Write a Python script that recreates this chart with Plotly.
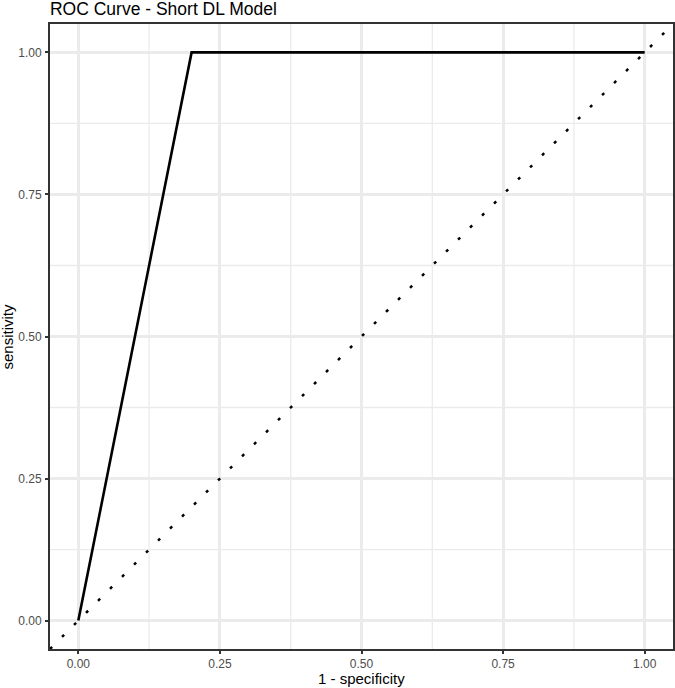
import plotly.graph_objects as go

# ROC curve points (1 - specificity, sensitivity)
fpr = [0.0, 0.2, 1.0]
tpr = [0.0, 1.0, 1.0]
# reference diagonal (chance line), spans the whole panel
diag_x = [-0.05, 1.05]
diag_y = [-0.05, 1.05]

tick_vals = [0.0, 0.25, 0.5, 0.75, 1.0]
tick_text = ["0.00", "0.25", "0.50", "0.75", "1.00"]
minor_vals = [0.125, 0.375, 0.625, 0.875]

GRID = "#EBEBEB"
INK = "#333333"
FONT = "Liberation Sans, Arial, sans-serif"

fig = go.Figure()
fig.add_trace(go.Scatter(
    x=diag_x, y=diag_y, mode="lines",
    line=dict(color="black", width=2.5, dash="3px,14px"),
    showlegend=False, hoverinfo="skip",
))
fig.add_trace(go.Scatter(
    x=fpr, y=tpr, mode="lines",
    line=dict(color="black", width=2.6),
    showlegend=False,
))

# minor grid lines drawn as shapes under the data
for v in minor_vals:
    fig.add_shape(type="line", xref="x", yref="paper", x0=v, x1=v, y0=0, y1=1,
                  line=dict(color=GRID, width=1.3), layer="below")
    fig.add_shape(type="line", xref="paper", yref="y", x0=0, x1=1, y0=v, y1=v,
                  line=dict(color=GRID, width=1.3), layer="below")

axis_common = dict(
    range=[-0.05, 1.05],
    tickvals=tick_vals,
    ticktext=tick_text,
    showgrid=True, gridcolor=GRID, gridwidth=2.6,
    zeroline=False,
    showline=True, linecolor=INK, linewidth=2, mirror=True,
    ticks="outside", ticklen=3, tickwidth=2, tickcolor=INK,
    tickfont=dict(size=12, color="#4D4D4D", family=FONT),
)

# axis titles as annotations so they sit exactly like the ggplot layout
fig.add_annotation(text="1 - specificity", xref="paper", yref="paper",
                   x=0.5, y=-0.0464, xanchor="center", yanchor="middle",
                   showarrow=False, font=dict(size=15, color="black"))
fig.add_annotation(text="sensitivity", xref="paper", yref="paper",
                   x=-0.069, y=0.5, xanchor="center", yanchor="middle",
                   textangle=-90, showarrow=False, font=dict(size=15, color="black"))

fig.update_layout(
    width=675, height=688,
    template="plotly_white",
    plot_bgcolor="white", paper_bgcolor="white",
    margin=dict(l=50, r=2, t=24, b=39, autoexpand=False),
    font=dict(family=FONT, color="black"),
    title=dict(text="ROC Curve - Short DL Model", x=0.074, xanchor="left",
               y=0.9876, yanchor="middle", font=dict(size=17.5, color="black")),
    xaxis=dict(**axis_common, ticklabelstandoff=0),
    yaxis=dict(**axis_common, ticklabelstandoff=1),
)

# drop the default page margin so the figure sits at the window's corner
fig.write_html("out.html", config={"displayModeBar": False},
               post_script="document.body.style.margin='0';")
